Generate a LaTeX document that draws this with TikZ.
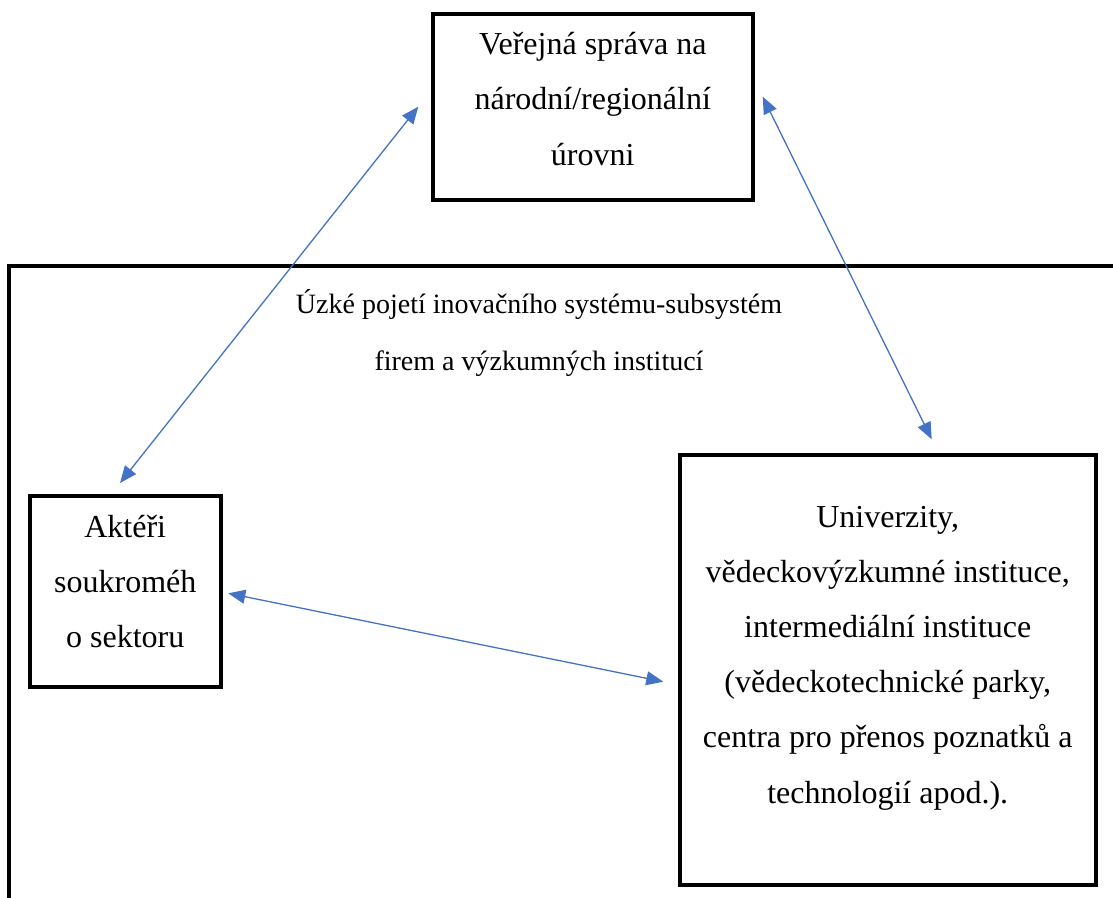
\documentclass[tikz,border=0pt]{standalone}
\usepackage{fontspec}
\setmainfont{Liberation Serif}
\usetikzlibrary{arrows.meta,calc}
\definecolor{linkblue}{HTML}{4472C4}
\begin{document}
\begin{tikzpicture}[x=1pt,y=-1pt,
  box/.style={draw=black, line width=4pt, rectangle, inner sep=0pt, outer sep=0pt},
  boxtext/.style={align=center, inner sep=0pt, anchor=base, font=\fontsize{32}{55.5}\selectfont},
  frametext/.style={align=center, inner sep=0pt, anchor=base, font=\fontsize{28}{57}\selectfont},
  frameline/.style={draw=black, line width=4pt, line join=miter},
  link/.style={draw=linkblue, line width=1.3pt, {Triangle[length=17pt,width=14pt]}-{Triangle[length=17pt,width=14pt]}}]
\useasboundingbox (0,0) rectangle (1113,897);

% frame of the narrow innovation system
\coordinate (fr1) at (1120,266);
\coordinate (fr2) at (9,266);
\coordinate (fr3) at (9,905);
\draw[frameline] (fr1) -- (fr2) -- (fr3);
\node[frametext] (ft) at (539,370) {Úzké pojetí inovačního systému-subsystém\\firem a výzkumných institucí};

% boxes
\node[box, minimum width=319.5pt, minimum height=186.5pt] (vs) at (592.75,107) {};
\node[boxtext] (vst) at (592.75,165) {Veřejná správa na\\národní/regionální\\úrovni};

\node[box, minimum width=191.5pt, minimum height=191pt] (lb) at (125.25,591.5) {};
\node[boxtext, font=\fontsize{32}{55}\selectfont] (lbt) at (125.25,647) {Aktéři\\soukroméh\\o sektoru};

\node[box, minimum width=416.5pt, minimum height=430pt] (rb) at (887.75,670) {};
\node[boxtext, font=\fontsize{32}{55.2}\selectfont] (rbt) at (887.75,803) {Univerzity,\\vědeckovýzkumné instituce,\\intermediální instituce\\(vědeckotechnické parky,\\centra pro přenos poznatků a\\technologií apod.).};

% connector ends
\coordinate (a1s) at ($(vs.west)+(-14.7,-0.3)$);
\coordinate (a1e) at ($(lb.north)+(-5.25,-13)$);
\coordinate (a2s) at ($(vs.east)+(10.2,-10.3)$);
\coordinate (a2e) at ($(rb.north)+(43.95,-15.7)$);
\coordinate (a3s) at ($(lb.east)+(7.3,1.8)$);
\coordinate (a3e) at ($(rb.west)+(-16.2,11.7)$);

\draw[link] (a1s) -- (a1e);
\draw[link] (a2s) -- (a2e);
\draw[link] (a3s) -- (a3e);
\end{tikzpicture}
\end{document}
